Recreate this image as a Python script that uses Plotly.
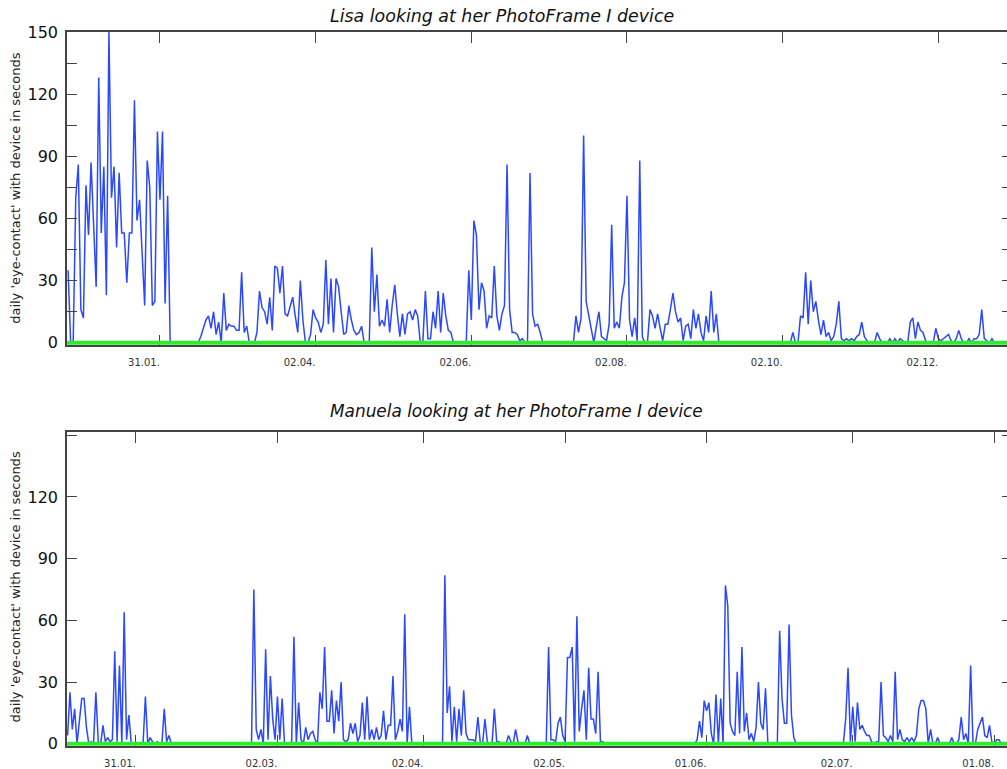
import pandas as pd
import plotly.graph_objects as go

# ---------------- data ----------------
# Lisa: daily values starting 2008-12-26
lisa_start = "2008-12-26"
lisa_values = [
    35, 0, 0, 70, 86, 16, 12, 76, 52, 87, 57, 27, 128, 53, 85, 23, 150, 70, 85, 46,
    82, 53, 53, 29, 53, 53, 117, 59, 69, 45, 18, 88, 75, 18, 20, 102, 69, 102, 19, 71,
    0, 0, 0, 0, 0, 0, 0, 0, 0, 0, 0, 0, 3, 7, 11, 13, 7, 15, 4, 10,
    0, 24, 6, 9, 8, 8, 6, 6, 34, 5, 8, 0, 0, 0, 5, 25, 17, 15, 9, 22,
    6, 37, 36, 24, 37, 14, 13, 17, 22, 13, 5, 30, 11, 0, 0, 4, 16, 12, 10, 5,
    9, 40, 9, 31, 5, 31, 27, 15, 4, 5, 18, 11, 6, 4, 5, 8, 0, 0, 0, 46,
    15, 33, 8, 11, 8, 21, 5, 18, 28, 14, 3, 14, 4, 14, 15, 11, 16, 13, 0, 0,
    25, 2, 2, 15, 7, 25, 5, 24, 13, 6, 5, 0, 0, 0, 0, 0, 0, 35, 11, 59,
    52, 16, 29, 25, 7, 13, 12, 37, 13, 6, 14, 18, 86, 16, 5, 5, 4, 1, 2, 0,
    0, 82, 14, 8, 9, 5, 0, 0, 0, 0, 0, 0, 0, 0, 0, 0, 0, 0, 0, 13,
    5, 12, 100, 20, 13, 8, 0, 8, 15, 3, 2, 1, 9, 57, 7, 10, 7, 22, 29, 71,
    11, 3, 12, 1, 88, 3, 0, 0, 16, 13, 7, 14, 7, 1, 9, 9, 16, 24, 15, 10,
    12, 1, 8, 9, 2, 16, 7, 14, 5, 1, 13, 5, 25, 5, 14, 0, 0, 0, 0, 0,
    0, 0, 0, 0, 0, 0, 0, 0, 0, 0, 0, 0, 0, 0, 0, 0, 0, 0, 0, 0,
    0, 0, 0, 0, 5, 0, 0, 13, 12, 34, 9, 30, 15, 20, 11, 4, 11, 3, 5, 1,
    3, 9, 20, 2, 1, 2, 1, 2, 1, 3, 4, 10, 3, 1, 0, 0, 0, 5, 2, 0,
    0, 0, 2, 0, 2, 0, 2, 1, 0, 0, 10, 12, 2, 10, 6, 5, 1, 0, 0, 0,
    7, 2, 1, 2, 3, 4, 1, 0, 2, 6, 2, 0, 0, 2, 0, 2, 2, 4, 16, 2,
    1, 0, 2, 0, 0, 0, 0, 0,
]
lisa_range = ["2008-12-25 13:40", "2009-12-28 21:40"]
lisa_tickvals = ["2009-01-31", "2009-04-02", "2009-06-02", "2009-08-02", "2009-10-02", "2009-12-02"]
lisa_ticktext = ["31.01.", "02.04.", "02.06.", "02.08.", "02.10.", "02.12."]

# Manuela: half-daily values starting 2009-01-16 12:00
manuela_start = "2009-01-16 12:00"
manuela_values = [
    4, 25, 7, 17, 0, 10, 22, 22, 8, 0, 1, 0, 25, 1, 0, 9, 1, 3, 1, 2,
    45, 1, 38, 0, 64, 2, 14, 0, 0, 0, 0, 0, 0, 23, 0, 3, 1, 0, 1, 0,
    0, 17, 1, 4, 0, 0, 0, 0, 0, 0, 0, 0, 0, 0, 0, 0, 0, 0, 0, 0,
    0, 0, 0, 0, 0, 0, 0, 0, 0, 0, 0, 0, 0, 0, 0, 0, 0, 0, 0, 75,
    7, 2, 7, 0, 46, 2, 33, 12, 2, 23, 2, 22, 0, 0, 0, 0, 52, 0, 20, 2,
    0, 8, 2, 5, 6, 2, 0, 25, 17, 47, 11, 11, 26, 5, 21, 11, 30, 2, 1, 2,
    10, 5, 10, 1, 4, 20, 2, 23, 2, 7, 2, 8, 2, 4, 16, 2, 9, 9, 33, 2,
    6, 12, 6, 63, 0, 18, 0, 0, 0, 0, 0, 0, 0, 0, 0, 0, 0, 0, 0, 0,
    82, 15, 28, 1, 18, 1, 17, 4, 26, 5, 2, 2, 2, 1, 13, 1, 0, 12, 1, 0,
    0, 17, 1, 1, 0, 0, 0, 4, 1, 0, 7, 1, 0, 0, 0, 4, 0, 0, 0, 0,
    0, 0, 0, 0, 47, 2, 2, 1, 10, 13, 4, 1, 42, 42, 47, 1, 62, 6, 17, 26,
    2, 37, 12, 12, 5, 35, 1, 1, 0, 0, 0, 0, 0, 0, 0, 0, 0, 0, 0, 0,
    0, 0, 0, 0, 0, 0, 0, 0, 0, 0, 0, 0, 0, 0, 0, 0, 0, 0, 0, 0,
    0, 0, 0, 0, 0, 0, 0, 2, 11, 3, 21, 16, 20, 5, 0, 24, 0, 22, 0, 77,
    67, 10, 6, 4, 35, 5, 47, 6, 15, 2, 5, 1, 8, 30, 10, 7, 27, 0, 0, 0,
    0, 0, 55, 22, 10, 10, 58, 14, 3, 0, 0, 0, 0, 0, 0, 0, 0, 0, 0, 0,
    0, 0, 0, 0, 0, 0, 0, 0, 0, 0, 12, 37, 1, 18, 1, 20, 7, 9, 6, 4,
    4, 1, 0, 1, 1, 30, 4, 3, 1, 4, 1, 35, 2, 7, 2, 1, 3, 1, 3, 1,
    4, 17, 21, 21, 17, 0, 7, 0, 0, 3, 0, 0, 0, 0, 0, 3, 0, 0, 2, 13,
    2, 5, 0, 38, 0, 0, 7, 10, 13, 4, 3, 9, 1, 0, 2, 2, 0, 0, 0,
]
manuela_range = ["2009-01-16 09:00", "2009-08-03 17:00"]
manuela_tickvals = ["2009-01-31", "2009-03-02", "2009-04-02", "2009-05-02", "2009-06-01", "2009-07-02", "2009-08-01"]
manuela_ticktext = ["31.01.", "02.03.", "02.04.", "02.05.", "01.06.", "02.07.", "01.08."]

lisa_y_ticks = [0, 15, 30, 45, 60, 75, 90, 105, 120, 135, 150]
lisa_y_text = ["0", "", "30", "", "60", "", "90", "", "120", "", "150"]
manuela_y_ticks = [0, 30, 60, 90, 120, 150]
manuela_y_text = ["0", "30", "60", "90", "120", ""]

titles = ["Lisa looking at her PhotoFrame I device", "Manuela looking at her PhotoFrame I device"]
y_title = "daily 'eye-contact' with device in seconds"

# ---------------- figure ----------------
lisa_dates = pd.date_range(lisa_start, periods=len(lisa_values), freq="D")
manuela_dates = pd.date_range(manuela_start, periods=len(manuela_values), freq="12h")

BLUE = "#2a48ff"
GREEN = "#2cec2c"
AXC = "#444444"
FONT = "DejaVu Sans"

fig = go.Figure()
fig.add_trace(go.Scatter(x=lisa_dates, y=lisa_values, mode="lines",
                         line=dict(color=BLUE, width=1.5), xaxis="x", yaxis="y",
                         showlegend=False, hoverinfo="skip"))
fig.add_trace(go.Scatter(x=manuela_dates, y=manuela_values, mode="lines",
                         line=dict(color=BLUE, width=1.5), xaxis="x2", yaxis="y2",
                         showlegend=False, hoverinfo="skip"))
# helper traces so the right-hand tick axes are drawn
fig.add_trace(go.Scatter(x=[lisa_dates[0]], y=[0], mode="markers", marker=dict(opacity=0),
                         xaxis="x", yaxis="y3", showlegend=False, hoverinfo="skip"))
fig.add_trace(go.Scatter(x=[manuela_dates[0]], y=[0], mode="markers", marker=dict(opacity=0),
                         xaxis="x2", yaxis="y4", showlegend=False, hoverinfo="skip"))

top_dom = [0.5612, 1.0]
bot_dom = [0.0, 0.4392]
top_yrange = [-1.206, 150]
bot_yrange = [-1.07, 151.4]

xcommon = dict(type="date", ticks="inside", ticklen=11, tickwidth=1.2, tickcolor=AXC,
               showline=True, linecolor=AXC, linewidth=1.5, mirror="ticks",
               showgrid=False, zeroline=False, automargin=False,
               tickfont=dict(family=FONT, size=10, color="#333333"),
               ticklabelstandoff=7, ticklabelshift=-16)
ycommon = dict(ticks="inside", ticklen=10, tickwidth=1.2, tickcolor=AXC,
               showline=True, linecolor=AXC, linewidth=1.5, mirror=False,
               showgrid=False, zeroline=False, automargin=False,
               tickfont=dict(family=FONT, size=16, color="#111111"),
               ticklabelstandoff=4)
rcommon = dict(side="right", ticks="inside", ticklen=5, tickwidth=1.2, tickcolor=AXC,
               showline=False, showgrid=False, zeroline=False, showticklabels=False)

fig.update_layout(
    width=1007, height=769,
    margin=dict(l=67, r=0, t=32, b=22.5),
    paper_bgcolor="white", plot_bgcolor="white",
    xaxis=dict(domain=[0, 1], anchor="y", range=lisa_range,
               tickvals=lisa_tickvals, ticktext=lisa_ticktext, **xcommon),
    yaxis=dict(domain=top_dom, anchor="x", range=top_yrange,
               tickvals=lisa_y_ticks, ticktext=lisa_y_text, **ycommon),
    xaxis2=dict(domain=[0, 1], anchor="y2", range=manuela_range,
                tickvals=manuela_tickvals, ticktext=manuela_ticktext, **xcommon),
    yaxis2=dict(domain=bot_dom, anchor="x2", range=bot_yrange,
                tickvals=manuela_y_ticks, ticktext=manuela_y_text, **ycommon),
    yaxis3=dict(overlaying="y", anchor="x", range=top_yrange, tickvals=lisa_y_ticks, **rcommon),
    yaxis4=dict(overlaying="y2", anchor="x2", range=bot_yrange, tickvals=manuela_y_ticks, **rcommon),
    shapes=[
        dict(type="line", xref="x domain", yref="y", x0=0, x1=1, y0=0, y1=0,
             line=dict(color=GREEN, width=4), layer="above"),
        dict(type="line", xref="x2 domain", yref="y2", x0=0, x1=1, y0=0, y1=0,
             line=dict(color=GREEN, width=4), layer="above"),
    ],
    annotations=[
        dict(text=titles[0], xref="paper", yref="paper", x=0.2777, y=1.0224,
             xanchor="left", yanchor="middle", showarrow=False,
             font=dict(family=FONT, size=17.4, color="#111111", style="italic")),
        dict(text=titles[1], xref="paper", yref="paper", x=0.2777, y=0.4696,
             xanchor="left", yanchor="middle", showarrow=False,
             font=dict(family=FONT, size=16.9, color="#111111", style="italic")),
        dict(text=y_title, xref="paper", yref="paper", x=-0.0543, y=0.7817,
             xanchor="center", yanchor="middle", textangle=-90, showarrow=False,
             font=dict(family=FONT, size=13, color="#222222")),
        dict(text=y_title, xref="paper", yref="paper", x=-0.0543, y=0.2232,
             xanchor="center", yanchor="middle", textangle=-90, showarrow=False,
             font=dict(family=FONT, size=13, color="#222222")),
    ],
)

fig.write_html("out.html", config={"displayModeBar": False},
               post_script="document.body.style.margin='0';document.body.style.overflow='hidden';")
